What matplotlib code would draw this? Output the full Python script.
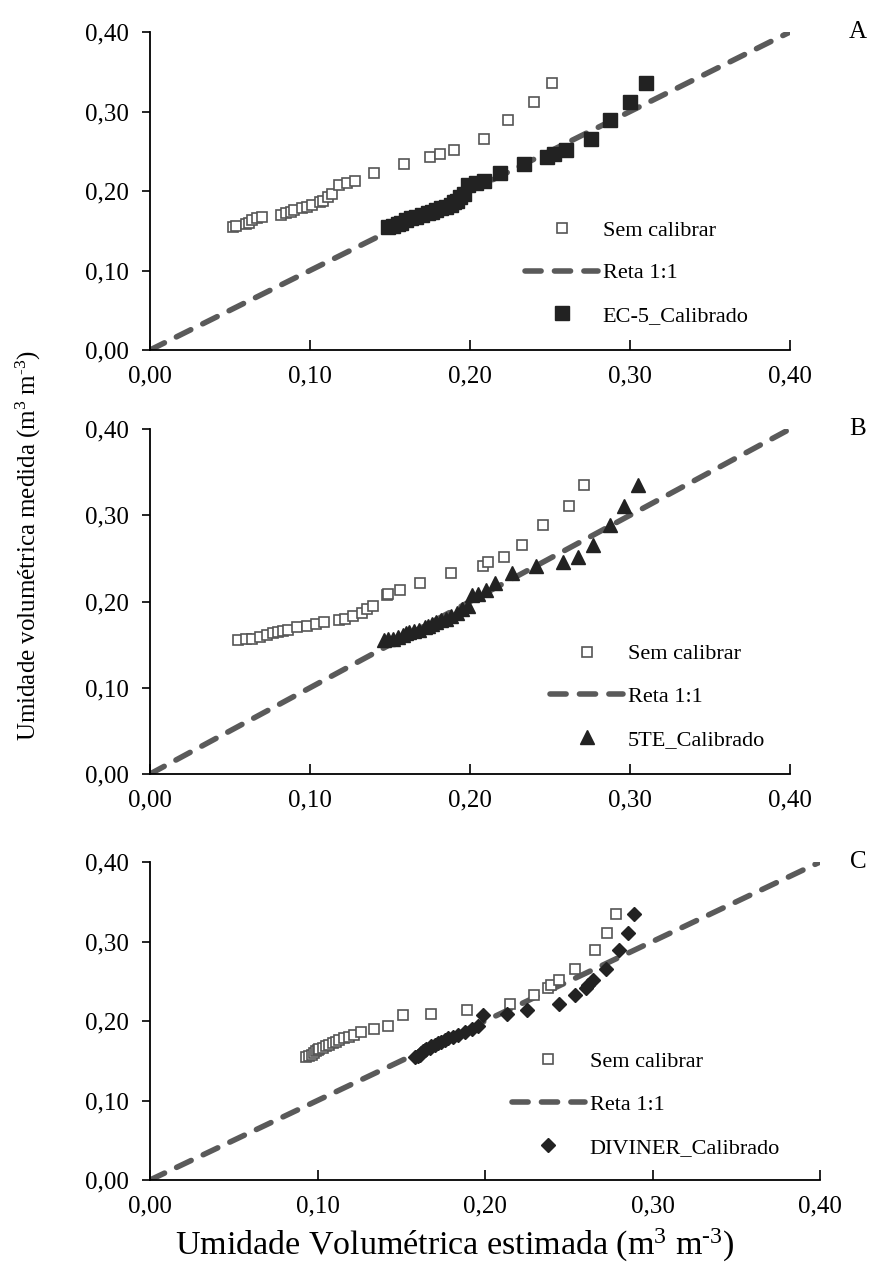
import matplotlib
matplotlib.use("Agg")
import matplotlib.pyplot as plt
from matplotlib.ticker import FuncFormatter

plt.rcParams['font.family'] = ['Liberation Serif', 'DejaVu Serif']
plt.rcParams['mathtext.fontset'] = 'custom'
plt.rcParams['mathtext.rm'] = 'Liberation Serif'
plt.rcParams['mathtext.it'] = 'Liberation Serif:italic'
plt.rcParams['mathtext.bf'] = 'Liberation Serif:bold'

# ---------------- data ----------------
# Panel A (EC-5)
a_sem_x = [0.052, 0.054, 0.060, 0.062, 0.064, 0.067, 0.070, 0.082, 0.085, 0.088,
           0.090, 0.095, 0.098, 0.101, 0.106, 0.108, 0.111, 0.114, 0.118, 0.123,
           0.128, 0.140, 0.159, 0.175, 0.181, 0.190, 0.209, 0.224, 0.240, 0.251]
a_y = [0.155, 0.156, 0.158, 0.160, 0.164, 0.166, 0.167, 0.170, 0.172, 0.174,
       0.176, 0.178, 0.180, 0.183, 0.186, 0.188, 0.192, 0.196, 0.208, 0.210,
       0.213, 0.223, 0.234, 0.243, 0.247, 0.252, 0.266, 0.289, 0.312, 0.336]
a_cal_x = [0.149, 0.152, 0.155, 0.157, 0.160, 0.163, 0.166, 0.170, 0.174, 0.176,
           0.179, 0.182, 0.185, 0.188, 0.190, 0.192, 0.194, 0.196, 0.199, 0.204,
           0.209, 0.219, 0.234, 0.248, 0.2525, 0.260, 0.2756, 0.2875, 0.300, 0.310]

# Panel B (5TE)
b_sem_x = [0.055, 0.060, 0.064, 0.069, 0.073, 0.077, 0.080, 0.083, 0.086, 0.092,
           0.098, 0.104, 0.109, 0.118, 0.122, 0.127, 0.1325, 0.1356, 0.1394, 0.148,
           0.149, 0.156, 0.169, 0.188, 0.208, 0.211, 0.221, 0.2325, 0.2456, 0.262, 0.271]
b_y = [0.155, 0.156, 0.157, 0.159, 0.161, 0.163, 0.165, 0.166, 0.167, 0.170,
       0.172, 0.174, 0.176, 0.178, 0.180, 0.183, 0.187, 0.191, 0.195, 0.208,
       0.209, 0.213, 0.222, 0.233, 0.241, 0.246, 0.252, 0.266, 0.289, 0.311, 0.335]
b_cal_x = [0.146, 0.149, 0.152, 0.155, 0.158, 0.160, 0.162, 0.165, 0.168, 0.172,
           0.174, 0.176, 0.179, 0.182, 0.185, 0.188, 0.192, 0.195, 0.199, 0.201,
           0.205, 0.210, 0.2156, 0.226, 0.241, 0.258, 0.2675, 0.277, 0.2875, 0.296, 0.305]

# Panel C (DIVINER)
c_sem_x = [0.093, 0.095, 0.097, 0.098, 0.099, 0.100, 0.101, 0.103, 0.105, 0.107,
           0.109, 0.111, 0.113, 0.116, 0.119, 0.122, 0.126, 0.134, 0.142, 0.151,
           0.168, 0.189, 0.215, 0.229, 0.2376, 0.2394, 0.244, 0.254, 0.2655, 0.273, 0.278]
c_y = [0.155, 0.156, 0.157, 0.160, 0.162, 0.164, 0.165, 0.166, 0.168, 0.170,
       0.172, 0.174, 0.176, 0.178, 0.180, 0.183, 0.186, 0.190, 0.194, 0.207,
       0.209, 0.214, 0.221, 0.233, 0.2415, 0.245, 0.2516, 0.265, 0.289, 0.311, 0.335]
c_cal_x = [0.158, 0.160, 0.161, 0.162, 0.163, 0.164, 0.165, 0.167, 0.168, 0.170,
           0.172, 0.174, 0.176, 0.178, 0.181, 0.184, 0.188, 0.192, 0.196, 0.199,
           0.213, 0.225, 0.244, 0.254, 0.260, 0.2615, 0.2645, 0.272, 0.280, 0.2855, 0.289]

line_11 = [0.0, 0.40]
ticks = [0.0, 0.1, 0.2, 0.3, 0.4]

panels = [
    dict(letter="A", sem_x=a_sem_x, y=a_y, cal_x=a_cal_x, cal_label="EC-5_Calibrado",
         marker="s", ms=10.5, box=(150, 790, 32, 350), leg=(0.586, 0.075)),
    dict(letter="B", sem_x=b_sem_x, y=b_y, cal_x=b_cal_x, cal_label="5TE_Calibrado",
         marker="^", ms=10, box=(150, 790, 429, 774), leg=(0.625, 0.07)),
    dict(letter="C", sem_x=c_sem_x, y=c_y, cal_x=c_cal_x, cal_label="DIVINER_Calibrado",
         marker="D", ms=7.5, box=(150, 820, 862, 1180), leg=(0.54, 0.07)),
]

W, H = 880, 1277
fig = plt.figure(figsize=(W / 100, H / 100), dpi=100)
fmt = FuncFormatter(lambda v, p: f"{v:.2f}".replace(".", ","))

for p in panels:
    l, r, t, b = p["box"]
    ax = fig.add_axes([l / W, 1 - b / H, (r - l) / W, (b - t) / H])
    ax.plot(p["sem_x"], p["y"], linestyle="none", marker="s", ms=7,
            mfc="white", mec="#555555", mew=1.2, label="Sem calibrar", zorder=3)
    ax.plot(line_11, line_11, linestyle=(0, (2.9, 2.4)), color="#5a5a5a", lw=4,
            label="Reta 1:1", zorder=2, dash_capstyle="round")
    ax.plot(p["cal_x"], p["y"], linestyle="none", marker=p["marker"], ms=p["ms"],
            mfc="#222222", mec="#222222", label=p["cal_label"], zorder=4)
    ax.set_xlim(0, 0.40)
    ax.set_ylim(0, 0.40)
    ax.set_xticks(ticks)
    ax.set_yticks(ticks)
    ax.xaxis.set_major_formatter(fmt)
    ax.yaxis.set_major_formatter(fmt)
    for s in ("top", "right"):
        ax.spines[s].set_visible(False)
    for s in ("left", "bottom"):
        ax.spines[s].set_linewidth(1.3)
        ax.spines[s].set_color("black")
    ax.tick_params(axis="x", direction="in", length=7, width=1.2, labelsize=18, pad=11)
    ax.tick_params(axis="y", direction="out", length=6, width=1.2, labelsize=18, pad=9)
    ax.text(1.0 + (858 - r) / (r - l), 1.0, p["letter"], transform=ax.transAxes,
            fontsize=18, ha="center", va="center")
    ax.legend(loc="lower left", bbox_to_anchor=p["leg"], frameon=False, fontsize=16,
              handlelength=3.3, handletextpad=0.2, labelspacing=1.0,
              borderpad=0, borderaxespad=0)

fig.text(28 / W, 1 - 545 / H, r"Umidade volumétrica medida (m$^{3}$ m$^{\text{-}3}$)",
         rotation=90, ha="center", va="center", fontsize=18)
fig.text(455 / W, 1 - 1245 / H, r"Umidade Volumétrica estimada (m$^{3}$ m$^{\text{-}3}$)",
         ha="center", va="center", fontsize=24.5)

fig.savefig("out.png", dpi=100)
